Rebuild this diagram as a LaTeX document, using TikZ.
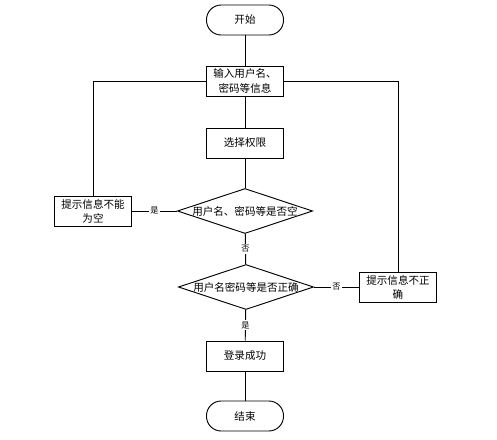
\documentclass[tikz,border=0pt]{standalone}
\usepackage{fontspec}
\setmainfont{Noto Sans CJK SC}
\usetikzlibrary{shapes.geometric}

\begin{document}
\begin{tikzpicture}[x=0.03cm,y=-0.03cm,line width=0.8pt,
    font=\fontsize{9}{12}\selectfont,
    startstop/.style={draw,rectangle,rounded corners=0.44cm,%
      minimum width=2.31cm,minimum height=0.9cm,inner sep=0pt},
    procbox/.style={draw,rectangle,align=center,%
      minimum width=2.31cm,minimum height=0.9cm,inner sep=1pt},
    decision/.style={draw,diamond,shape aspect=3,inner sep=0pt},
    yesno/.style={fill=white,inner sep=1pt,font=\fontsize{7}{8}\selectfont}]

      % 图的范围
      \useasboundingbox (0,0) rectangle (497,439);

      \node[startstop] (start) at (245,20) {开始};
      \node[procbox] (input) at (245,81) {输入用户名、\\密码等信息};
      \node[procbox] (role) at (245,143) {选择权限};
      \node[decision] (isempty) at (245,211) {用户名、密码等是否空};
      \node[procbox] (emptymsg) at (93,211) {提示信息不能\\为空};
      \node[decision] (iscorrect) at (246,287) {用户名密码等是否正确};
      \node[procbox] (wrongmsg) at (398,287) {提示信息不正\\确};
      \node[procbox] (success) at (245,356) {登录成功};
      \node[startstop] (stop) at (245,416) {结束};

      % 连线
      \draw (start) -- (input);
      \draw (input) -- (role);
      \draw (role) -- (isempty);
      \draw (isempty) -- node[yesno] {是} (emptymsg);
      \draw (emptymsg.north) |- (input.west);
      \draw (isempty) -- node[yesno] {否} (iscorrect);
      \draw (iscorrect) -- node[yesno] {否} (wrongmsg);
      \draw (wrongmsg.north) |- (input.east);
      \draw (iscorrect) -- node[yesno] {是} (success);
      \draw (success) -- (stop);
    \end{tikzpicture}
\end{document}
